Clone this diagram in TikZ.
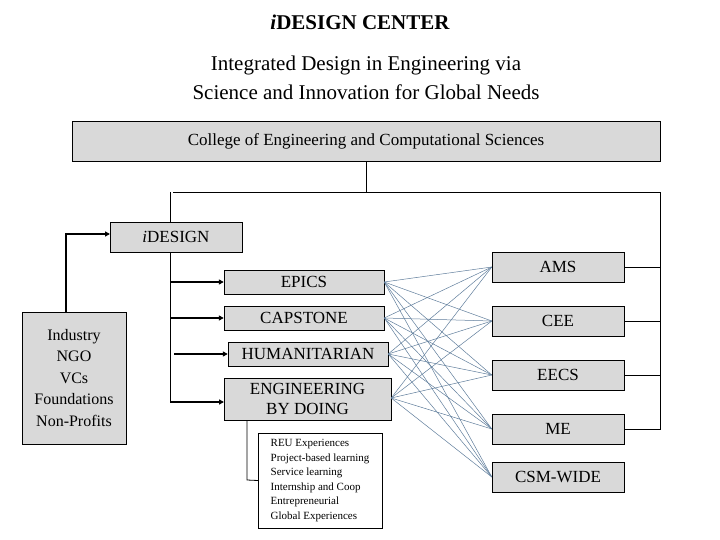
\documentclass[tikz,border=0pt]{standalone}
\usepackage{fontspec}
\setmainfont{Liberation Serif}
\usetikzlibrary{arrows.meta}
\definecolor{crossc}{RGB}{95,125,155}
\begin{document}
\begin{tikzpicture}[x=1pt,y=-1pt,
  box/.style={draw,fill=gray!30,inner sep=0pt,font=\fontsize{17}{19}\selectfont,align=center},
  wbox/.style={draw,fill=white,inner sep=0pt},
  arr/.style={line width=1.4pt,-{Triangle[length=5pt,width=5pt]}},
  ln/.style={line width=0.8pt},
  cross/.style={draw=crossc,line width=0.5pt}]
\useasboundingbox (0,0) rectangle (720,540);
\node[font=\fontsize{21}{24}\selectfont\bfseries] (title) at (360,22) {\textit{i}DESIGN CENTER};
\node[font=\fontsize{21}{29}\selectfont,align=center] (sub) at (366,78) {Integrated Design in Engineering via\\Science and Innovation for Global Needs};
\node[box,minimum width=588pt,minimum height=40pt] (coll) at (366,141) {College of Engineering and Computational Sciences};
\node[box,minimum width=132pt,minimum height=30pt] (ides) at (176,237) {\textit{i}DESIGN};
\node[box,minimum width=160pt,minimum height=24pt] (epics) at (304,282) {EPICS};
\node[box,minimum width=160pt,minimum height=24pt] (cap) at (304,318) {CAPSTONE};
\node[box,minimum width=160pt,minimum height=24pt] (hum) at (308,354) {HUMANITARIAN};
\node[box,minimum width=167pt,minimum height=42pt,font=\fontsize{17}{20}\selectfont] (ebd) at (307.5,399) {ENGINEERING\\BY DOING};
\node[wbox,minimum width=124pt,minimum height=95pt,font=\fontsize{11}{14.5}\selectfont,align=left] (list) at (320,480.5) {REU Experiences\\Project-based learning\\Service learning\\Internship and Coop\\Entrepreneurial\\Global Experiences};
\node[box,fill=gray!30,minimum width=104pt,minimum height=132pt,font=\fontsize{16}{21.5}\selectfont] (ind) at (74,378) {Industry\\NGO\\VCs\\Foundations\\Non-Profits};
\foreach \n/\t/\y in {ams/AMS/267,cee/CEE/321,eecs/EECS/375,me/ME/429,csm/CSM-WIDE/477}
  \node[box,minimum width=132pt,minimum height=30pt] (\n) at (558,\y) {\t};
\coordinate (tl) at (170,192);
\coordinate (tr) at (660,192);
\draw[ln] (coll.south) -- (366,192);
\draw[ln] (173,192) -- (tr) -- (tr |- me.east) -- (me.east);
\foreach \n in {ams,cee,eecs} \draw[ln] (\n.east) -- (\n.east -| tr);
\draw[ln] (tl) -- (170,222);
\draw[ln] (170,252) -- (170,402);
\draw[arr] (170,282) -- (epics.west);
\draw[arr] (170,318) -- (cap.west);
\draw[arr] (174,354) -- (hum.west);
\draw[arr] (170,402) -- (224,402);
\draw[arr] (66,312) -- (66,234) -- (110,234);
\draw[ln] (247,420) -- (247,480) -- (list.west);
\foreach \s/\sy in {epics/282,cap/318,hum/354,ebd/398}
  \foreach \t in {ams,cee,eecs,me,csm}
    \draw[cross] (\s.east |- 0,\sy) -- (\t.west);
\end{tikzpicture}
\end{document}
